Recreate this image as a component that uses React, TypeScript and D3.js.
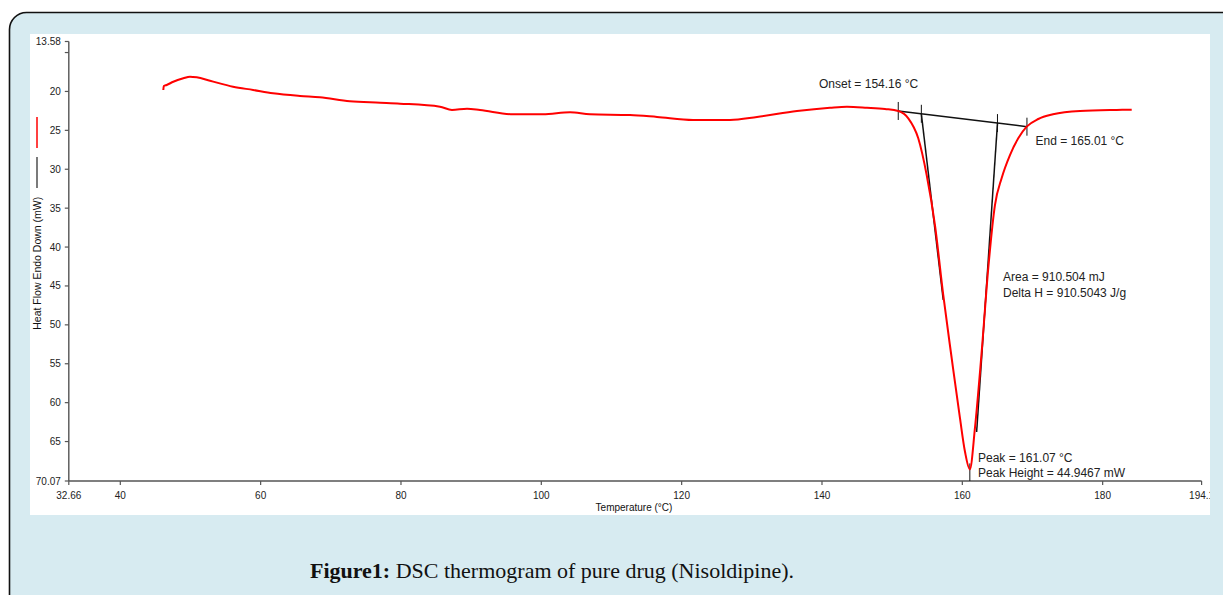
import React from "react";
import * as d3 from "d3";

// DSC trace of Nisoldipine: temperature (°C) vs heat flow (mW), endo down
const TEMP_C = [
  46.13, 46.2, 46.61, 47.55, 48.98, 49.93, 50.89, 52.78, 56.06, 58.93, 61.76, 65.61, 68.43,
  72.71, 77.04, 79.86, 85.56, 87.27, 89.41, 91.26, 95.97, 100.24, 104.09, 106.94, 112.64,
  116.49, 121.62, 126.89, 130.74, 136.44, 141.14, 143.56, 146.41, 148.98, 150.87, 152.3,
  153.72, 154.92, 156.1, 157.28, 158.48, 159.66, 160.38,
];
const HEAT_MW = [
  19.81, 19.3, 19.17, 18.75, 18.31, 18.1, 18.18, 18.62, 19.39, 19.81, 20.24, 20.58, 20.75,
  21.27, 21.45, 21.57, 21.96, 22.38, 22.22, 22.38, 22.94, 22.94, 22.68, 22.94, 23.03,
  23.28, 23.67, 23.67, 23.28, 22.51, 22.09, 21.96, 22.09, 22.26, 22.51, 23.45,
  26.02, 30.74, 37.17, 46.16, 54.26, 61.97, 66.31,
];
const TEMP_C_AFTER = [
  161.8, 162.76, 163.7, 164.65, 165.61, 166.79, 167.97, 169.17, 170.83, 172.92, 176.77, 182.0, 184.14,
];
const HEAT_MW_AFTER = [
  63.25, 53.45, 42.69, 34.6, 31.12, 28.17, 26.02, 24.53, 23.54, 22.94, 22.51, 22.38, 22.35,
];

// Peak analysis results
const ONSET_C = 154.16;
const END_C = 165.01;
const PEAK_C = 161.07;
const PEAK_HEIGHT_MW = 44.9467;
const AREA_MJ = 910.504;
const DELTA_H = 910.5043;
// integration limits on the baseline
const BASE_START: [number, number] = [150.87, 22.51];
const BASE_END: [number, number] = [169.21, 24.53];
// far ends of the leading / trailing tangents
const LEAD_TANGENT_END: [number, number] = [157.28, 46.8];
const TRAIL_TANGENT_END: [number, number] = [162.04, 63.77];

const X_DOMAIN: [number, number] = [32.66, 194.1];
const Y_DOMAIN: [number, number] = [13.58, 70.07];
const X_TICKS = [40, 60, 80, 100, 120, 140, 160, 180];
const Y_TICKS = [15, 20, 25, 30, 35, 40, 45, 50, 55, 60, 65];
const Y_TICK_LABELS = ["", "20", "25", "30", "35", "40", "45", "50", "55", "60", "65"];

const W = 1223;
const H = 595;
const PLOT = { left: 68.8, right: 1201.6, top: 41.5, bottom: 481 };

const baselineAt = (t: number) =>
  BASE_START[1] + ((t - BASE_START[0]) / (BASE_END[0] - BASE_START[0])) * (BASE_END[1] - BASE_START[1]);

export default function App() {
  const x = d3.scaleLinear().domain(X_DOMAIN).range([PLOT.left, PLOT.right]);
  const y = d3.scaleLinear().domain(Y_DOMAIN).range([PLOT.top, PLOT.bottom]);

  const peakHeat = baselineAt(PEAK_C) + PEAK_HEIGHT_MW;
  const pts: [number, number][] = [
    ...TEMP_C.map((t, i) => [t, HEAT_MW[i]] as [number, number]),
    [PEAK_C, peakHeat],
    ...TEMP_C_AFTER.map((t, i) => [t, HEAT_MW_AFTER[i]] as [number, number]),
  ];
  const line = d3
    .line<[number, number]>()
    .x((d) => x(d[0]))
    .y((d) => y(d[1]))
    .curve(d3.curveMonotoneX);

  const onsetPt: [number, number] = [ONSET_C, baselineAt(ONSET_C)];
  const endPt: [number, number] = [END_C, baselineAt(END_C)];
  const markTemps = [BASE_START[0], ONSET_C, END_C, BASE_END[0]];

  const axisColor = "#555";
  const labelColor = "#222";
  const font = "Liberation Sans, Arial, sans-serif";

  return (
    <svg width={W} height={H} style={{ position: "absolute", left: 0, top: 0 }}>
      <defs>
        <clipPath id="panel-clip">
          <rect x={30} y={34} width={1180} height={481} />
        </clipPath>
      </defs>
      <rect x={0} y={0} width={W} height={H} fill="#fff" />
      <rect x={9.5} y={12.5} width={1260} height={640} rx={17} fill="#d7ebf1" stroke="#111" strokeWidth={1.6} />
      <rect x={30} y={34} width={1180} height={481} fill="#fff" />

      <g clipPath="url(#panel-clip)" fontFamily={font}>
        {/* legend swatches */}
        <line x1={37} x2={37} y1={117} y2={148} stroke="#ff0000" strokeWidth={1.5} />
        <line x1={37} x2={37} y1={157} y2={188} stroke="#222" strokeWidth={1.2} />
        <text
          transform={`translate(40.5,${(PLOT.top + PLOT.bottom) / 2 + 2}) rotate(-90)`}
          textAnchor="middle"
          fontSize={10.5}
          fill="#111"
        >
          Heat Flow Endo Down (mW)
        </text>

        {/* y axis */}
        <line x1={PLOT.left} x2={PLOT.left} y1={PLOT.top} y2={PLOT.bottom} stroke={axisColor} strokeWidth={1.4} />
        {[Y_DOMAIN[0], ...Y_TICKS, Y_DOMAIN[1]].map((v, i) => (
          <line key={"yt" + i} x1={PLOT.left - 4} x2={PLOT.left} y1={y(v)} y2={y(v)} stroke={axisColor} strokeWidth={1.2} />
        ))}
        {Y_TICKS.map((v, i) => (
          <text key={"yl" + i} x={PLOT.left - 8} y={y(v)} dy="0.35em" textAnchor="end" fontSize={10} fill={labelColor}>
            {Y_TICK_LABELS[i]}
          </text>
        ))}
        {Y_DOMAIN.map((v, i) => (
          <text key={"yd" + i} x={PLOT.left - 8} y={y(v)} dy="0.35em" textAnchor="end" fontSize={10} fill={labelColor}>
            {v.toFixed(2)}
          </text>
        ))}

        {/* x axis */}
        <line x1={PLOT.left} x2={PLOT.right} y1={PLOT.bottom} y2={PLOT.bottom} stroke={axisColor} strokeWidth={1.4} />
        {[X_DOMAIN[0], ...X_TICKS, X_DOMAIN[1]].map((v, i) => (
          <g key={"xt" + i}>
            <line x1={x(v)} x2={x(v)} y1={PLOT.bottom} y2={PLOT.bottom + 4} stroke={axisColor} strokeWidth={1.2} />
            <text x={x(v)} y={PLOT.bottom + 18} textAnchor="middle" fontSize={10} fill={labelColor}>
              {Number.isInteger(v) ? v : v.toString()}
            </text>
          </g>
        ))}
        <text x={634} y={511} textAnchor="middle" fontSize={10} fill="#111">
          Temperature (°C)
        </text>

        {/* analysis construction lines */}
        <g stroke="#111" strokeWidth={1.5} fill="none">
          <line x1={x(BASE_START[0])} y1={y(BASE_START[1])} x2={x(BASE_END[0])} y2={y(BASE_END[1])} />
          <line x1={x(onsetPt[0])} y1={y(onsetPt[1])} x2={x(LEAD_TANGENT_END[0])} y2={y(LEAD_TANGENT_END[1])} />
          <line x1={x(endPt[0])} y1={y(endPt[1])} x2={x(TRAIL_TANGENT_END[0])} y2={y(TRAIL_TANGENT_END[1])} />
        </g>
        <g stroke="#111" strokeWidth={1} fill="none">
          {markTemps.map((t, i) => (
            <line key={"mk" + i} x1={x(t)} x2={x(t)} y1={y(baselineAt(t)) - 9} y2={y(baselineAt(t)) + 9} />
          ))}
          <line x1={x(PEAK_C)} x2={x(PEAK_C)} y1={y(peakHeat) - 6} y2={PLOT.bottom} />
        </g>

        {/* DSC curve */}
        <path d={line(pts) ?? ""} fill="none" stroke="#ff0000" strokeWidth={2} strokeLinejoin="round" />

        {/* annotations */}
        <g fontSize={12} fill="#222">
          <text x={819} y={88}>Onset = {ONSET_C.toFixed(2)} °C</text>
          <text x={1035.5} y={144.5}>End = {END_C.toFixed(2)} °C</text>
          <text x={1003} y={281}>Area = {AREA_MJ.toFixed(3)} mJ</text>
          <text x={1003} y={297}>Delta H = {DELTA_H.toFixed(4)} J/g</text>
          <text x={978} y={462}>Peak = {PEAK_C.toFixed(2)} °C</text>
          <text x={978} y={477}>Peak Height = {PEAK_HEIGHT_MW.toFixed(4)} mW</text>
        </g>
      </g>

      {/* caption */}
      <text x={552} y={578} textAnchor="middle" fontFamily="Liberation Serif, serif" fontSize={22} fill="#111">
        <tspan fontWeight="bold">Figure1:</tspan> DSC thermogram of pure drug (Nisoldipine).
      </text>
    </svg>
  );
}
